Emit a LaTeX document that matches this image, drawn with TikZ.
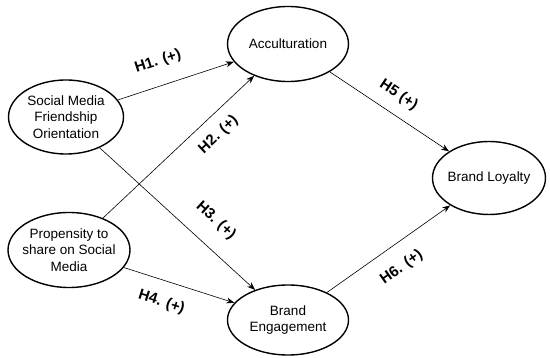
\documentclass[tikz,border=0pt]{standalone}
\usepackage{fontspec}
\setmainfont{Liberation Sans}
\usetikzlibrary{positioning, shapes.geometric, arrows.meta}

\begin{document}
\begin{tikzpicture}[x=1pt, y=-1pt, >={Stealth[length=8pt, width=6pt]},
        every node/.style={font=\fontsize{13.5}{16.5}\selectfont},
        construct/.style={ellipse, draw, line width=1.4pt, align=center, inner xsep=-10pt, inner ysep=-6pt},
        hyp/.style={font=\fontsize{15}{17}\selectfont\bfseries, sloped}]
        \useasboundingbox (0,0) rectangle (550,358);

        \node[construct, minimum width=115pt, minimum height=74pt] (smfo) at (66,117) {Social Media\\Friendship\\Orientation};
        \node[construct, minimum width=122pt, minimum height=75pt] (pssm) at (69,250) {Propensity to\\share on Social\\Media};
        \node[construct, minimum width=121pt, minimum height=75pt] (acc) at (288,44) {Acculturation};
        \node[construct, minimum width=121pt, minimum height=70pt] (be) at (288,320) {Brand\\Engagement};
        \node[construct, minimum width=113pt, minimum height=73pt] (bl) at (489,178) {Brand Loyalty};

        \path[->, line width=0.6pt]
            (smfo) edge node[hyp, pos=0.41, above=13pt] {H1. (+)} (acc)
            (pssm) edge node[hyp, pos=0.68, below=8pt] {H2. (+)} (acc)
            (smfo) edge node[hyp, pos=0.64, above=14pt] {H3. (+)} (be)
            (pssm) edge node[hyp, pos=0.40, below=11pt] {H4. (+)} (be)
            (acc) edge node[hyp, pos=0.49, above=8pt] {H5 (+)} (bl)
            (be) edge node[hyp, pos=0.50, below=12pt] {H6. (+)} (bl);
    \end{tikzpicture}
\end{document}
